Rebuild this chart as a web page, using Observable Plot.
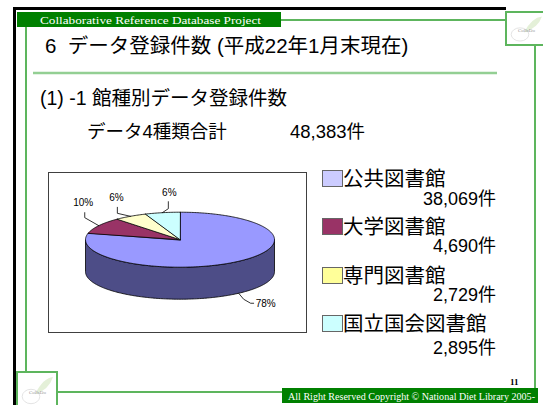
<!DOCTYPE html>
<html><head><meta charset="utf-8">
<script src="https://cdn.jsdelivr.net/npm/d3@7"></script>
<script src="https://cdn.jsdelivr.net/npm/@observablehq/plot@0.6"></script>
<style>
body{margin:0;background:#fff;width:543px;height:405px;overflow:hidden;position:relative;font-family:"Liberation Sans","Noto Sans CJK JP",sans-serif;}
#frame{position:absolute;left:0;top:0;}
#frame text{white-space:pre;}
#box{position:absolute;left:48px;top:172px;width:257px;height:159px;border:1px solid #404040;}
#pie{position:absolute;left:48px;top:172px;}
</style></head><body>
<svg id="frame" width="543" height="405"></svg>
<div id="box"></div>
<div id="pie"></div>
<script>
// ---- data ----
const categories = ["公共図書館", "大学図書館", "専門図書館", "国立国会図書館"];
const counts = [38069, 4690, 2729, 2895];
const countLabels = ["38,069件", "4,690件", "2,729件", "2,895件"];
const percentLabels = ["78%", "10%", "6%", "6%"];
const pieColors = ["#9999FF", "#993366", "#FFFFCC", "#CCFFFF"];
const legendColors = ["#CCCCFF", "#993366", "#FFFF99", "#CCFFFF"];
const headerText = "Collaborative Reference Database Project";
const titleText = "6  データ登録件数 (平成22年1月末現在)";
const subtitleText = "(1) -1 館種別データ登録件数";
const totalCaption = "データ4種類合計";
const totalLabel = "48,383件";
const footerText = "All Right Reserved Copyright © National Diet Library 2005-";
const pageNumber = "11";

// ---- slide frame ----
const svg = d3.select("#frame");
const green = "#008000", lightGreen = "#5DB55D";
svg.append("line").attr("x1",13).attr("x2",506).attr("y1",8.5).attr("y2",8.5).attr("stroke","#000").attr("stroke-width",3);
svg.append("line").attr("x1",14.5).attr("x2",14.5).attr("y1",7).attr("y2",405).attr("stroke","#000").attr("stroke-width",3);
svg.append("rect").attr("x",17).attr("y",12).attr("width",264).attr("height",15).attr("fill",green);
svg.append("text").attr("x",40).attr("y",23.5).attr("fill","#fff").attr("font-family","Liberation Serif").attr("font-size",10.5)
  .attr("textLength",221).attr("lengthAdjust","spacingAndGlyphs").text(headerText);
svg.append("line").attr("x1",281).attr("x2",506).attr("y1",20).attr("y2",20).attr("stroke",lightGreen).attr("stroke-width",2);
svg.append("line").attr("x1",26).attr("x2",26).attr("y1",27).attr("y2",372).attr("stroke",lightGreen).attr("stroke-width",2);
svg.append("line").attr("x1",535).attr("x2",535).attr("y1",45).attr("y2",389).attr("stroke",lightGreen).attr("stroke-width",2);
svg.append("line").attr("x1",57).attr("x2",283).attr("y1",392).attr("y2",392).attr("stroke",lightGreen).attr("stroke-width",2);
svg.append("line").attr("x1",33).attr("x2",497).attr("y1",73).attr("y2",73).attr("stroke","#93CF93").attr("stroke-width",2.5);
// logo boxes
function logo(x,y,w,h){
  svg.append("rect").attr("x",x).attr("y",y).attr("width",w).attr("height",h).attr("fill","#fff").attr("stroke",lightGreen).attr("stroke-width",2);
  svg.append("path").attr("d",`M${x+w*0.45},${y+h*0.62} q${w*0.2},${-h*0.45} ${w*0.45},${-h*0.48} q${-w*0.1},${h*0.35} ${-w*0.45},${h*0.48}z`).attr("fill","#E4F0D8");
  svg.append("ellipse").attr("cx",x+w*0.35).attr("cy",y+h*0.68).attr("rx",w*0.22).attr("ry",h*0.2).attr("fill","none").attr("stroke","#ddd").attr("stroke-width",0.8);
  svg.append("text").attr("x",x+w*0.3).attr("y",y+h*0.6).attr("font-size",5).attr("fill","#999").attr("font-family","Liberation Serif").text("CollaDo");
}
logo(506,12,40,33);
logo(17,372,40,36);
svg.append("rect").attr("x",282).attr("y",388).attr("width",256).attr("height",15).attr("fill",green);
svg.append("text").attr("x",288).attr("y",399.5).attr("fill","#fff").attr("font-family","Liberation Serif").attr("font-size",10)
  .attr("textLength",247).attr("lengthAdjust","spacingAndGlyphs").text(footerText);
svg.append("text").attr("x",510).attr("y",385).attr("fill","#000").attr("font-family","Liberation Serif").attr("font-weight","bold").attr("font-size",9).text(pageNumber);

// texts
svg.append("text").attr("x",45).attr("y",53).attr("font-size",20.5).attr("fill","#000").text(titleText);
svg.append("text").attr("x",40).attr("y",105).attr("font-size",19.5).attr("fill","#000").text(subtitleText);
svg.append("text").attr("x",87).attr("y",138).attr("font-size",18.5).attr("fill","#000").text(totalCaption);
svg.append("text").attr("x",290).attr("y",138).attr("font-size",18.5).attr("fill","#000").text(totalLabel);

// legend
const legendBase = [186, 234, 283, 331];
const countBase = [205, 252, 301, 354];
categories.forEach((c,i)=>{
  svg.append("rect").attr("x",322.5).attr("y",legendBase[i]-15.5).attr("width",20).attr("height",16)
    .attr("fill",legendColors[i]).attr("stroke","#666").attr("stroke-width",1);
  svg.append("text").attr("x",343).attr("y",legendBase[i]).attr("font-size",20.5).attr("fill","#000").text(c);
  svg.append("text").attr("x",496).attr("y",countBase[i]).attr("text-anchor","end").attr("font-size",18).attr("fill","#000").text(countLabels[i]);
});

// ---- pie (Observable Plot) ----
const W = 259, H = 161;
const cx = 131.5, cy = 67.2, rx = 94.5, ry = 27.5, depthPx = 32;
const D = depthPx / ry;
const arcs = d3.pie().sort(null)(counts);
const step = Math.PI / 180;
const arcPts = (a0, a1) => { const n = Math.max(2, Math.ceil((a1 - a0) / step)); return d3.range(n + 1).map(k => a0 + (a1 - a0) * k / n); };
const shade = c => { const r = d3.rgb(c); return d3.rgb(r.r * 0.5, r.g * 0.5, r.b * 0.53).formatHex(); };

const tops = arcs.flatMap((a, i) => [
  {id: i, x: 0, y: 0, c: pieColors[i]},
  ...arcPts(a.startAngle, a.endAngle).map(t => ({id: i, x: Math.sin(t), y: Math.cos(t), c: pieColors[i]}))
]);
const walls = arcs.flatMap((a, i) => {
  const lo = Math.max(a.startAngle, Math.PI / 2), hi = Math.min(a.endAngle, 3 * Math.PI / 2);
  if (lo >= hi) return [];
  const pts = arcPts(lo, hi);
  return [
    ...pts.map(t => ({id: i, x: Math.sin(t), y: Math.cos(t)})),
    ...pts.slice().reverse().map(t => ({id: i, x: Math.sin(t), y: Math.cos(t) - D}))
  ].map(p => ({...p, c: shade(pieColors[i])}));
});

// leader layout in pixels, relative to the slice's outer anchor point
const leaderLayout = [
  {pts: [[5, 6], [12, 10], [15, 10]], label: [27, 11], bottom: true},
  {pts: [[-14, -8], [-14, -13]], label: [-15.5, -23]},
  {pts: [[-13, -3], [-13, -9]], label: [-14, -19]},
  {pts: [[6, -4], [6, -11]], label: [7, -20]}
];
const leaders = [], labels = [];
arcs.forEach((a, i) => {
  const m = (a.startAngle + a.endAngle) / 2;
  const L = leaderLayout[i];
  const ax = Math.sin(m), ay = Math.cos(m) - (L.bottom ? D : 0);
  leaders.push({id: i, x: ax, y: ay});
  L.pts.forEach(([dx, dy]) => leaders.push({id: i, x: ax + dx / rx, y: ay - dy / ry}));
  labels.push({x: ax + L.label[0] / rx, y: ay - L.label[1] / ry, text: percentLabels[i]});
});

const chart = Plot.plot({
  width: W, height: H, margin: 0,
  x: {domain: [-1, 1], range: [cx - rx, cx + rx], axis: null},
  y: {domain: [-1, 1], range: [cy + ry, cy - ry], axis: null},
  color: {type: "identity"},
  style: {background: "transparent", overflow: "visible", fontFamily: "Liberation Sans, sans-serif"},
  marks: [
    Plot.line(walls, {x: "x", y: "y", z: "id", fill: "c", stroke: "#000", strokeWidth: 0.8, curve: "linear-closed"}),
    Plot.line(tops, {x: "x", y: "y", z: "id", fill: "c", stroke: "#000", strokeWidth: 0.8, curve: "linear-closed"}),
    Plot.line(leaders, {x: "x", y: "y", z: "id", stroke: "#000", strokeWidth: 0.8}),
    Plot.text(labels, {x: "x", y: "y", text: "text", fontSize: 10, fill: "#000"})
  ]
});
document.getElementById("pie").appendChild(chart);
</script>
</body></html>
